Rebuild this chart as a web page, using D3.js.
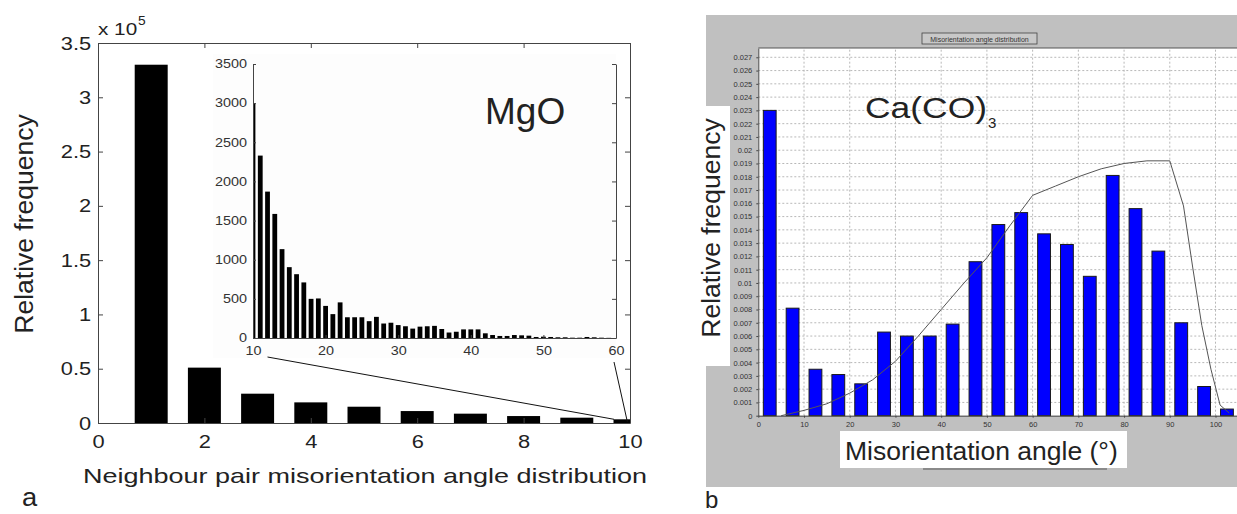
<!DOCTYPE html>
<html>
<head>
<meta charset="utf-8">
<script src="https://cdn.jsdelivr.net/npm/d3@7"></script>
<style>
  body { margin: 0; background: #fff; overflow: hidden; }
  svg { display: block; }
  text { font-family: "Liberation Sans", Arial, sans-serif; fill: #222; }
  .axis path, .axis line { stroke: #444; }
</style>
</head>
<body>
<div id="chart"></div>
<script>
// ---- panel a: MgO (counts in units of 10^5) ----
const mainAngles = [1, 2, 3, 4, 5, 6, 7, 8, 9, 10]
const mainCounts = [3.30, 0.51, 0.27, 0.19, 0.15, 0.11, 0.086, 0.064, 0.049, 0.034]
const mainXTicks = [0, 2, 4, 6, 8, 10]
const mainYTicks = [0, 0.5, 1, 1.5, 2, 2.5, 3, 3.5]

const insetAngles = [10, 11, 12, 13, 14, 15, 16, 17, 18, 19, 20, 21, 22, 23, 24, 25, 26, 27, 28, 29,
  30, 31, 32, 33, 34, 35, 36, 37, 38, 39, 40, 41, 42, 43, 44, 45, 46, 47, 48, 49,
  50, 51, 52, 53, 54, 55, 56, 57, 58, 59]
const insetCounts = [3000, 2330, 1870, 1585, 1135, 905, 815, 710, 500, 505, 410, 305, 455, 265, 265, 265, 215, 270, 185, 195,
  165, 150, 120, 145, 150, 155, 115, 70, 80, 110, 110, 110, 60, 38, 26, 26, 38, 34, 30, 13,
  17, 13, 9, 9, 4, 4, 13, 9, 4, 2]
const insetXTicks = [10, 20, 30, 40, 50, 60]
const insetYTicks = [0, 500, 1000, 1500, 2000, 2500, 3000, 3500]

// ---- panel b: Ca(CO)3 ----
const binCenters = [2.5, 7.5, 12.5, 17.5, 22.5, 27.5, 32.5, 37.5, 42.5, 47.5, 52.5, 57.5, 62.5, 67.5, 72.5,
  77.5, 82.5, 87.5, 92.5, 97.5, 102.5]
const binFreq = [0.0230, 0.0081, 0.0035, 0.0031, 0.0024, 0.0063, 0.0060, 0.0060, 0.0069, 0.0116, 0.0144, 0.0153,
  0.0137, 0.0129, 0.0105, 0.0181, 0.0156, 0.0124, 0.0070, 0.0022, 0.0005]
const curveAngles = [5, 10, 15, 20, 25, 30, 35, 40, 45, 50, 55, 60, 65, 70, 75, 80, 85, 90, 93, 95, 97, 99, 101, 103]
const curveFreq = [0, 0.0004, 0.0009, 0.0017, 0.0027, 0.0041, 0.0060, 0.0080, 0.0100, 0.0119, 0.0143, 0.0166,
  0.0173, 0.0180, 0.0186, 0.0190, 0.0192, 0.0192, 0.0158, 0.0112, 0.0068, 0.0035, 0.0008, 0.0002]
const bXTicks = [0, 10, 20, 30, 40, 50, 60, 70, 80, 90, 100]
const bYTicks = [0, 0.001, 0.002, 0.003, 0.004, 0.005, 0.006, 0.007, 0.008, 0.009, 0.01, 0.011, 0.012, 0.013,
  0.014, 0.015, 0.016, 0.017, 0.018, 0.019, 0.02, 0.021, 0.022, 0.023, 0.024, 0.025, 0.026, 0.027]

const W = 1237, H = 514

const svg = d3.select("#chart").append("svg")
  .attr("width", W)
  .attr("height", H)

// text helper, the left panel lettering is a bit wider than normal
function label(g, x, y, str, size, sx, anchor) {
  return g.append("text")
    .attr("transform", "translate(" + x + "," + y + ") scale(" + sx + ",1)")
    .attr("text-anchor", anchor || "start")
    .style("font-size", size + "px")
    .text(str)
}

// ================= panel a =================
const a = svg.append("g")
const xMain = d3.scaleLinear().domain([0, 10]).range([98, 630])
const yMain = d3.scaleLinear().domain([0, 3.5]).range([423, 43])

a.append("clipPath").attr("id", "clipMain")
  .append("rect")
  .attr("x", xMain(0)).attr("y", yMain(3.5))
  .attr("width", xMain(10) - xMain(0)).attr("height", yMain(0) - yMain(3.5))

a.append("g").attr("clip-path", "url(#clipMain)")
  .selectAll("rect")
  .data(mainAngles)
  .join("rect")
  .attr("x", (d) => xMain(d - 0.31))
  .attr("width", xMain(0.62) - xMain(0))
  .attr("y", (d, i) => yMain(mainCounts[i]))
  .attr("height", (d, i) => yMain(0) - yMain(mainCounts[i]))
  .attr("fill", "#000")

// box + inward ticks
const ax = a.append("g").attr("class", "axis")
ax.append("g")
  .attr("transform", "translate(0," + yMain(0) + ")")
  .call(d3.axisBottom(xMain).tickValues(mainXTicks).tickSizeInner(-5).tickSizeOuter(0).tickPadding(12))
ax.append("g")
  .attr("transform", "translate(" + xMain(0) + ",0)")
  .call(d3.axisLeft(yMain).tickValues(mainYTicks).tickFormat(d3.format("~g")).tickSizeInner(-5).tickSizeOuter(0).tickPadding(6))
ax.append("g")
  .attr("transform", "translate(0," + yMain(3.5) + ")")
  .call(d3.axisTop(xMain).tickValues(mainXTicks).tickFormat("").tickSizeInner(-5).tickSizeOuter(0))
ax.append("g")
  .attr("transform", "translate(" + xMain(10) + ",0)")
  .call(d3.axisRight(yMain).tickValues(mainYTicks).tickFormat("").tickSizeInner(-5).tickSizeOuter(0))
ax.selectAll("text")
  .style("font-size", "19px")
  .attr("transform", "scale(1.15,1)")
ax.selectAll(".domain").attr("stroke", "#444")

label(a, xMain(0), 35, "x 10", 17, 1.22)
label(a, xMain(0) + 40, 25, "5", 12, 1.15)

// inset
const xIn = d3.scaleLinear().domain([10, 60]).range([253, 616])
const yIn = d3.scaleLinear().domain([0, 3500]).range([338, 64])

a.append("rect")
  .attr("x", xIn(10) - 40).attr("y", yIn(3500) - 10)
  .attr("width", xIn(60) - xIn(10) + 40).attr("height", yIn(0) - yIn(3500) + 30)
  .attr("fill", "#fdfdfd")

a.append("clipPath").attr("id", "clipIn")
  .append("rect")
  .attr("x", xIn(10)).attr("y", yIn(3500))
  .attr("width", xIn(60) - xIn(10)).attr("height", yIn(0) - yIn(3500))

a.append("g").attr("clip-path", "url(#clipIn)")
  .selectAll("rect")
  .data(insetAngles)
  .join("rect")
  .attr("x", (d) => xIn(d - 0.33))
  .attr("width", xIn(10.66) - xIn(10))
  .attr("y", (d, i) => yIn(insetCounts[i]))
  .attr("height", (d, i) => yIn(0) - yIn(insetCounts[i]))
  .attr("fill", "#000")

const ix = a.append("g").attr("class", "axis")
ix.append("g")
  .attr("transform", "translate(0," + yIn(0) + ")")
  .call(d3.axisBottom(xIn).tickValues(insetXTicks).tickSizeInner(-3).tickSizeOuter(0).tickPadding(8))
ix.append("g")
  .attr("transform", "translate(" + xIn(10) + ",0)")
  .call(d3.axisLeft(yIn).tickValues(insetYTicks).tickFormat(d3.format("d")).tickSizeInner(-3).tickSizeOuter(0).tickPadding(5))
ix.append("g")
  .attr("transform", "translate(" + xIn(60) + ",0)")
  .call(d3.axisRight(yIn).tickValues(insetYTicks).tickFormat("").tickSizeInner(-4).tickSizeOuter(0))
ix.selectAll("text")
  .style("font-size", "12px")
  .style("fill", "#333")
  .attr("transform", "scale(1.2,1)")

label(a, 485, 124, "MgO", 37, 1, "start")

// zoom connector lines
const connectors = [
  { x1: 12, y1: 0, x2: 9.7, y2: 0.034, dy: 19 },
  { x1: 60, y1: 0, x2: 9.95, y2: 0.012, dy: 24 }
]
a.selectAll(".conn")
  .data(connectors)
  .join("line")
  .attr("x1", (d) => xIn(d.x1) - (d.x1 === 60 ? 2 : 0))
  .attr("y1", (d) => yIn(d.y1) + d.dy)
  .attr("x2", (d) => xMain(d.x2))
  .attr("y2", (d) => yMain(d.y2))
  .attr("stroke", "#111")
  .attr("stroke-width", 1)

// axis titles
a.append("text")
  .attr("transform", "translate(33,224) rotate(-90)")
  .attr("text-anchor", "middle")
  .style("font-size", "26.5px")
  .text("Relative frequency")

a.append("text")
  .attr("x", 83).attr("y", 483)
  .attr("textLength", 564)
  .attr("lengthAdjust", "spacingAndGlyphs")
  .style("font-size", "21px")
  .text("Neighbour pair misorientation angle distribution")

label(a, 22, 506, "a", 26, 1.05)

// ================= panel b =================
const b = svg.append("g")
const xB = d3.scaleLinear().domain([0, 104.7]).range([758.3, 1237])
const yB = d3.scaleLinear().domain([0, 0.0277]).range([415.7, 48])

b.append("rect")
  .attr("x", 706).attr("y", 15)
  .attr("width", W - 706).attr("height", 487 - 15)
  .attr("fill", "#c0c0c0")

b.append("rect")
  .attr("x", xB(0)).attr("y", yB(0.0277))
  .attr("width", xB(104.7) - xB(0)).attr("height", yB(0) - yB(0.0277))
  .attr("fill", "#fff")

// dotted grid
b.append("g")
  .selectAll("line")
  .data(bYTicks.slice(1))
  .join("line")
  .attr("x1", xB(0)).attr("x2", xB(104.7))
  .attr("y1", (d) => yB(d)).attr("y2", (d) => yB(d))
  .attr("stroke", "#b8b8b8")
  .attr("stroke-dasharray", "2,2")
b.append("g")
  .selectAll("line")
  .data(bXTicks.slice(1))
  .join("line")
  .attr("x1", (d) => xB(d)).attr("x2", (d) => xB(d))
  .attr("y1", yB(0)).attr("y2", yB(0.0277))
  .attr("stroke", "#b8b8b8")
  .attr("stroke-dasharray", "2,2")

// bars
b.append("g")
  .selectAll("rect")
  .data(binCenters)
  .join("rect")
  .attr("x", (d) => xB(d - 1.4))
  .attr("width", xB(2.8) - xB(0))
  .attr("y", (d, i) => yB(binFreq[i]))
  .attr("height", (d, i) => yB(0) - yB(binFreq[i]))
  .attr("fill", "#0000ff")
  .attr("stroke", "#1a1a1a")
  .attr("stroke-width", 1)

// fitted curve
const curve = d3.line()
  .x((d) => xB(d))
  .y((d, i) => yB(curveFreq[i]))
b.append("path")
  .datum(curveAngles)
  .attr("d", curve)
  .attr("fill", "none")
  .attr("stroke", "#555")
  .attr("stroke-width", 1)

// axes
const bx = b.append("g").attr("class", "axis")
bx.append("g")
  .attr("transform", "translate(0," + yB(0) + ")")
  .call(d3.axisBottom(xB).tickValues(bXTicks).tickSizeInner(2).tickSizeOuter(0).tickPadding(4))
bx.append("g")
  .attr("transform", "translate(" + xB(0) + ",0)")
  .call(d3.axisLeft(yB).tickValues(bYTicks).tickFormat(d3.format(".3~f")).tickSizeInner(2).tickSizeOuter(0).tickPadding(4))
bx.selectAll("text")
  .style("font-size", "7.5px")
  .style("fill", "#333")
bx.selectAll(".domain").attr("stroke", "#222")

// plot frame top
b.append("line")
  .attr("x1", xB(0)).attr("x2", xB(104.7))
  .attr("y1", yB(0.0277)).attr("y2", yB(0.0277))
  .attr("stroke", "#555")

// small chart title box
b.append("rect")
  .attr("x", 922).attr("y", 33)
  .attr("width", 115).attr("height", 11)
  .attr("fill", "#c8c8c8")
  .attr("stroke", "#444")
  .attr("stroke-width", 0.8)
b.append("text")
  .attr("x", 979.5).attr("y", 41.5)
  .attr("text-anchor", "middle")
  .style("font-size", "7px")
  .style("fill", "#333")
  .text("Misorientation angle distribution")

// white label boxes
b.append("rect")
  .attr("x", 706).attr("y", 106)
  .attr("width", 24).attr("height", 260)
  .attr("fill", "#fff")
b.append("text")
  .attr("transform", "translate(720,228) rotate(-90)")
  .attr("text-anchor", "middle")
  .style("font-size", "26.5px")
  .text("Relative frequency")

b.append("line")
  .attr("x1", 923).attr("x2", 1107)
  .attr("y1", 469).attr("y2", 469)
  .attr("stroke", "#555")
b.append("rect")
  .attr("x", 840).attr("y", 431)
  .attr("width", 287).attr("height", 37)
  .attr("fill", "#fff")
b.append("text")
  .attr("x", 845).attr("y", 460)
  .style("font-size", "26.5px")
  .text("Misorientation angle (°)")

b.append("text")
  .attr("x", 865).attr("y", 118)
  .style("font-size", "30px")
  .attr("textLength", 122)
  .attr("lengthAdjust", "spacingAndGlyphs")
  .text("Ca(CO)")
b.append("text")
  .attr("x", 988).attr("y", 128)
  .style("font-size", "15px")
  .text("3")

label(b, 705, 508, "b", 24, 1)
</script>
</body>
</html>
